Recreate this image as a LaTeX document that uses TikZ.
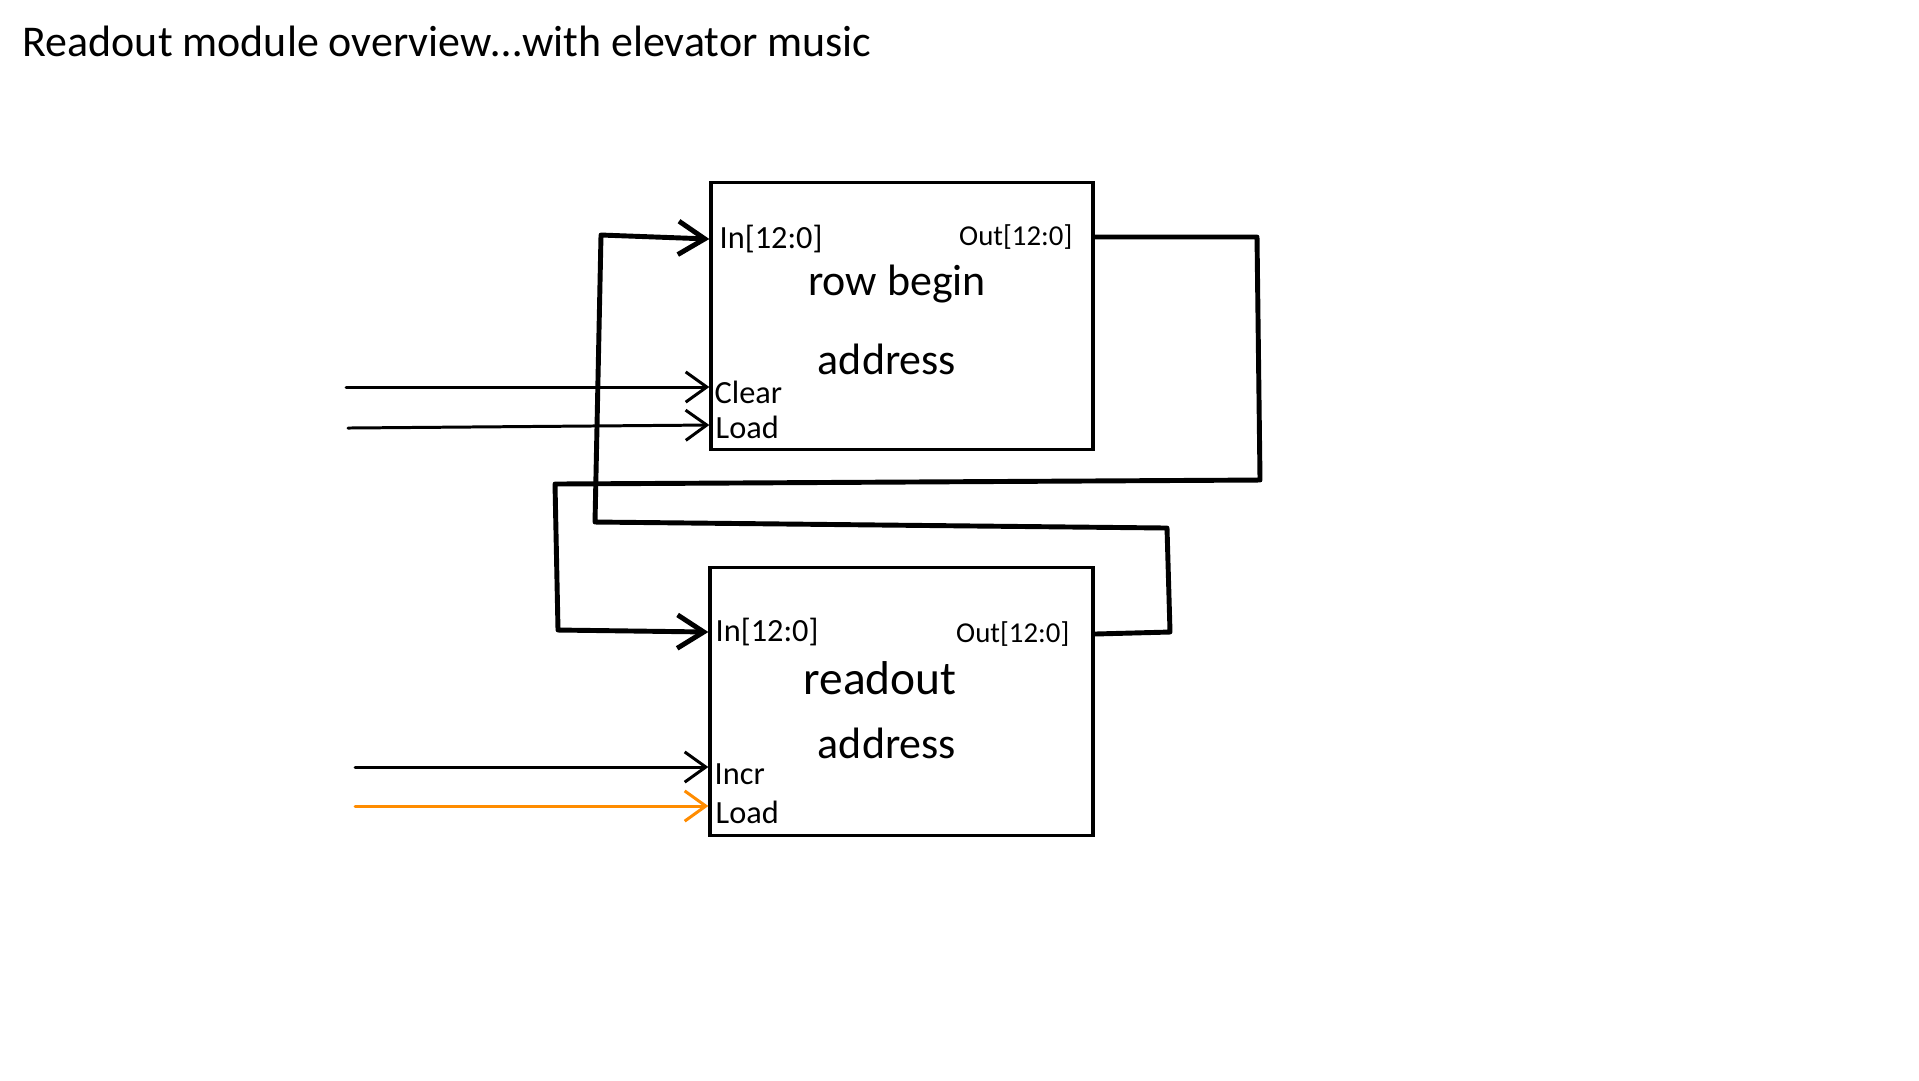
\documentclass[tikz,border=0pt]{standalone}
\usepackage{fontspec}
\setmainfont{Carlito}
\usetikzlibrary{arrows.meta}
\definecolor{wireorange}{RGB}{255,140,0}
\begin{document}
\begin{tikzpicture}[x=0.1mm,y=-0.1mm,
  block/.style={draw, line width=0.95pt, rectangle, inner sep=0pt},
  bus/.style={draw, line width=1.4pt, line join=round, line cap=round,
    -{Straight Barb[length=7.5pt,width=9.5pt,line width=1.4pt]}},
  sig/.style={draw, line width=0.85pt, line cap=round,
    -{Straight Barb[length=6pt,width=8.6pt,line width=0.85pt]}},
  portlabel/.style={inner sep=0pt, font=\fontsize{9.2}{11}\selectfont},
  outlabel/.style={inner sep=0pt, font=\fontsize{8.2}{10}\selectfont},
  blocklabel/.style={inner sep=0pt, font=\fontsize{12.5}{14}\selectfont},
  headtext/.style={inner sep=0pt, font=\fontsize{12.5}{15}\selectfont}]
\useasboundingbox (0,0) rectangle (1919,1080);
\fill[white] (0,0) rectangle (1919,1080);

% heading
\node[headtext, anchor=base west] (head) at (22,56)
  {Readout module overview\dots with elevator music};

% the two registers
\node[block, minimum width=38.2mm, minimum height=26.7mm] (rb) at (902,316) {};
\node[block, minimum width=38.3mm, minimum height=26.8mm] (ra) at (901.5,701.5) {};

% labels of row begin address
\node[portlabel, anchor=west] (rbin) at (719,239) {In[12:0]};
\node[outlabel, anchor=east] (rbout) at (1073,237) {Out[12:0]};
\node[blocklabel] (rbname1) at (897,284) {row begin};
\node[blocklabel] (rbname2) at (887,359) {address};
\node[portlabel, anchor=west] (rbclr) at (714,392) {Clear};
\node[portlabel, anchor=west] (rbld) at (715,427) {Load};

% labels of readout address
\node[portlabel, anchor=west] (rain) at (715,632) {In[12:0]};
\node[outlabel, anchor=east] (raout) at (1070,634) {Out[12:0]};
\node[blocklabel, font=\fontsize{13.5}{15}\selectfont] (raname1) at (880,678) {readout};
\node[blocklabel] (raname2) at (887,743) {address};
\node[portlabel, anchor=west] (raincr) at (714,774) {Incr};
\node[portlabel, anchor=west] (rald) at (715,812) {Load};

% port points on the box edges
\coordinate (rbI) at (rb.west |- rbin.west);
\coordinate (rbO) at (rb.east |- rbout.east);
\coordinate (raI) at (ra.west |- rain.west);
\coordinate (raO) at (ra.east |- raout.east);
\coordinate (rbC) at (rb.west |- 0,387);
\coordinate (rbL) at (rb.west |- 0,425);
\coordinate (raC) at (ra.west |- 0,767);
\coordinate (raL) at (ra.west |- 0,806);

% free ends of the control inputs
\coordinate (clrsrc) at (346,387);
\coordinate (ldsrc) at (348,428);
\coordinate (incrsrc) at (355,767);
\coordinate (ld2src) at (355,806);

% control inputs
\draw[sig] (clrsrc) -- (rbC);
\draw[sig] (ldsrc) -- (rbL);
\draw[sig] (incrsrc) -- (raC);
\draw[sig, wireorange] (ld2src) -- (raL);

% row begin out -> readout in
\draw[bus] (rbO) -- (1257,237) -- (1260,480) -- (555,484) -- (558,630) -- (raI);
% readout out -> row begin in
\draw[bus] (raO) -- (1170,632) -- (1167,528) -- (595,522) -- (601,235) -- (rbI);
\end{tikzpicture}
\end{document}
